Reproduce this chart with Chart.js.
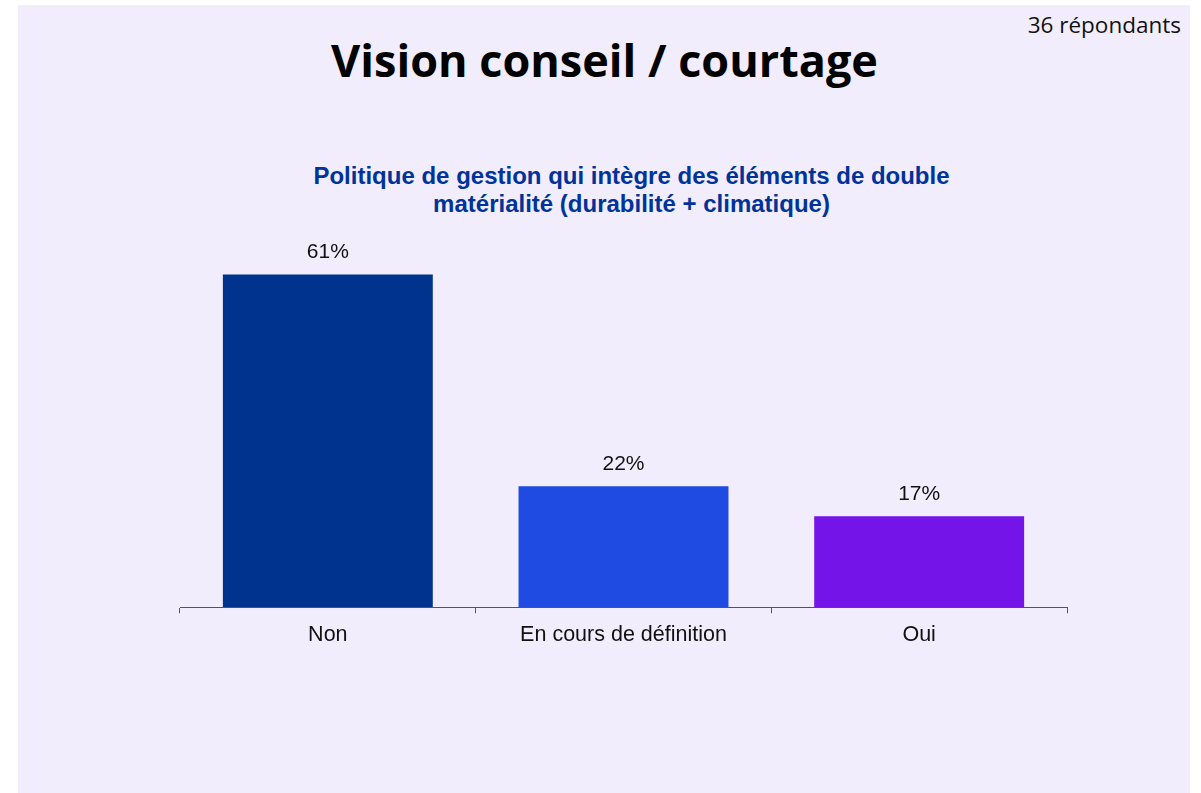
<!DOCTYPE html>
<html>
<head>
<meta charset="utf-8">
<script src="https://cdn.jsdelivr.net/npm/chart.js@4/dist/chart.umd.min.js"></script>
<style>
  html, body { margin: 0; padding: 0; background: #ffffff; }
  #panel {
    position: absolute; left: 18px; top: 5px; width: 1172px; height: 788px;
    background: #f1edfc;
  }
  #title {
    position: absolute; left: 0; width: 1209px; top: 29px; text-align: center;
    font-family: 'Open Sans', sans-serif; font-weight: 700; font-size: 45px; color: #000;
  }
  #count {
    position: absolute; right: 20px; top: 9px;
    font-family: 'Open Sans', sans-serif; font-size: 22.5px; color: #111;
  }
  #subtitle {
    position: absolute; left: 0; width: 1263px; top: 162px; text-align: center;
    font-family: 'Liberation Sans', Arial, sans-serif; font-weight: 700; font-size: 24px;
    line-height: 28px; color: #003399;
  }
  #wrap { position: absolute; left: 0; top: 0; width: 1201px; height: 793px; }
</style>
</head>
<body>
<div id="panel"></div>
<div id="title">Vision conseil / courtage</div>
<div id="count">36 répondants</div>
<div id="subtitle"></div>
<div id="wrap"><canvas id="chart"></canvas></div>
<script>
const categories = ['Non', 'En cours de définition', 'Oui'];
const values = [61.1, 22.2, 16.7];
const barColors = ['#00338d', '#1f4be3', '#7514e8'];
const subtitle = ['Politique de gestion qui intègre des éléments de double', 'matérialité (durabilité + climatique)'];

document.getElementById('subtitle').innerHTML = subtitle.join('<br>');

// draws the percentage above each bar
const valueLabels = {
    id: 'valueLabels',
    afterDatasetsDraw(chart) {
        const ctx = chart.ctx;
        const meta = chart.getDatasetMeta(0);
        ctx.save();
        ctx.font = '21px "Liberation Sans", Arial, sans-serif';
        ctx.fillStyle = '#111';
        ctx.textAlign = 'center';
        ctx.textBaseline = 'alphabetic';
        meta.data.forEach((bar, i) => {
            ctx.fillText(Math.round(values[i]) + '%', bar.x, bar.y - 16);
        });
        ctx.restore();
    }
};

const ctx = document.getElementById('chart').getContext('2d');
const chart = new Chart(ctx, {
    type: 'bar',
    data: {
        labels: categories,
        datasets: [{
            data: values,
            backgroundColor: barColors,
            borderWidth: 0,
            categoryPercentage: 1,
            barPercentage: 0.71
        }]
    },
    options: {
        responsive: true,
        maintainAspectRatio: false,
        animation: false,
        layout: {
            padding: { left: 180, right: 134, top: 226, bottom: 136 }
        },
        scales: {
            y: {
                display: false,
                min: 0,
                max: 70
            },
            x: {
                border: { display: true, color: '#555', width: 1 },
                grid: {
                    display: true,
                    drawOnChartArea: false,
                    drawTicks: true,
                    tickLength: 6,
                    color: '#555'
                },
                ticks: {
                    color: '#111',
                    padding: 9,
                    font: { family: '"Liberation Sans", Arial, sans-serif', size: 21.5 }
                }
            }
        },
        plugins: {
            legend: { display: false },
            tooltip: { enabled: false },
            title: { display: false }
        }
    },
    plugins: [valueLabels]
});
</script>
</body>
</html>
